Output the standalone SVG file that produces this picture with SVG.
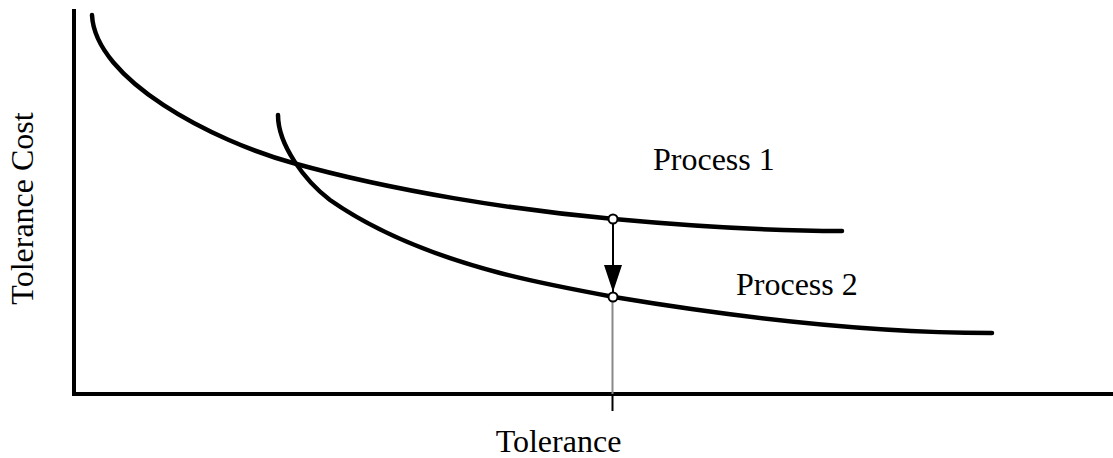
<svg xmlns="http://www.w3.org/2000/svg" width="1113" height="458" viewBox="0 0 1113 458">
<style>
.axis{fill:none;stroke:#000;stroke-width:4;stroke-linejoin:miter}
.curve{fill:none;stroke:#000;stroke-width:4.5;stroke-linecap:round}
.lbl{font-family:"Liberation Serif","Times New Roman",serif;font-size:32px;fill:#000}
.pt{fill:#fff;stroke:#000;stroke-width:2}
</style>
<defs>
<marker id="ah" viewBox="0 0 27 18" refX="27" refY="9" markerWidth="27" markerHeight="18" markerUnits="userSpaceOnUse" orient="auto">
<path d="M0,0 L27,9 L0,18 Z" fill="#000"/>
</marker>
</defs>
<g id="axes">
<path class="axis" d="M74,9 L74,394 L1113,394"/>
<line x1="612.5" y1="394" x2="612.5" y2="411" stroke="#000" stroke-width="2"/>
</g>
<g id="process1">
<path class="curve" d="M92,15 C95,80 213,141 293,163 C393,191 514,210 614,219 C690,226 766,231 842,231"/>
</g>
<g id="process2">
<path class="curve" d="M278,115 C278,145 305,181 330,200 C380,235 443,258 500,273 C538,283 576,290 614,297 C740,318 866,333 992,333"/>
</g>
<g id="connectors">
<line x1="612.5" y1="297" x2="612.5" y2="394" stroke="#888" stroke-width="2"/>
<line x1="613" y1="219" x2="613" y2="292" stroke="#000" stroke-width="2" marker-end="url(#ah)"/>
</g>
<g id="points">
<circle class="pt" cx="613" cy="219" r="4.5"/>
<circle class="pt" cx="613" cy="297" r="4.5"/>
</g>
<g id="labels">
<text class="lbl" x="653" y="169.5">Process 1</text>
<text class="lbl" x="736" y="295">Process 2</text>
<text class="lbl" x="558.5" y="452" text-anchor="middle">Tolerance</text>
<text class="lbl" transform="translate(33,208.5) rotate(-90)" text-anchor="middle">Tolerance Cost</text>
</g>
</svg>
